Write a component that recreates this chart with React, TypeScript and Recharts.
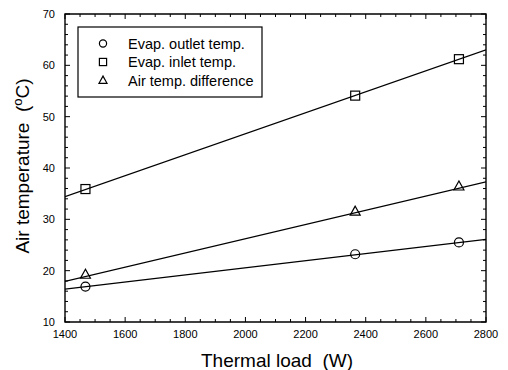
import React from 'react';
import { ComposedChart, Line, Scatter, XAxis, YAxis, ReferenceArea, Customized } from 'recharts';

// Measured data points
const loads = [1468, 2365, 2710];
const outletTemp = [16.9, 23.2, 25.5];
const inletTemp = [35.9, 54.1, 61.2];
const tempDiff = [19.2, 31.5, 36.4];

// Linear fit lines (end points at axis limits)
const fitLoads = [1400, 2800];
const outletFit = [16.4, 26.1];
const inletFit = [34.4, 63.0];
const diffFit = [17.9, 37.3];

const xMajorTicks = [1400, 1600, 1800, 2000, 2200, 2400, 2600, 2800];
const yMajorTicks = [10, 20, 30, 40, 50, 60, 70];
const legendLabels = ['Evap. outlet temp.', 'Evap. inlet temp.', 'Air temp. difference'];

const xAllTicks: number[] = [];
for (let v = 1400; v <= 2800; v += 50) xAllTicks.push(v);
const yAllTicks: number[] = [];
for (let v = 10; v <= 70; v += 2) yAllTicks.push(v);

const toPts = (xs: number[], ys: number[]) => xs.map((x, i) => ({ x, y: ys[i] }));

const W = 508;
const H = 370;
const M = { top: 14, right: 22, left: 0, bottom: 0 };
const Y_W = 65;
const X_H = 48;
const PL = Y_W;
const PT = M.top;
const PR = W - M.right;
const PB = H - X_H;

const FONT = '"Liberation Sans", Arial, sans-serif';

const CircleMark = (p: any) => {
  const s = p.s ?? 1;
  return <circle cx={p.cx} cy={p.cy} r={4.5 * s} fill="none" stroke="#000" strokeWidth={1.2} />;
};
const SquareMark = (p: any) => {
  const s = p.s ?? 1;
  return (
    <rect x={p.cx - 4.5 * s} y={p.cy - 4.5 * s} width={9 * s} height={9 * s} fill="none" stroke="#000" strokeWidth={1.2} />
  );
};
const TriMark = (p: any) => {
  const s = p.s ?? 1;
  return (
    <polygon
      points={`${p.cx},${p.cy - 5.5 * s} ${p.cx - 5 * s},${p.cy + 3.5 * s} ${p.cx + 5 * s},${p.cy + 3.5 * s}`}
      fill="none"
      stroke="#000"
      strokeWidth={1.2}
    />
  );
};

const XTick = (props: any) => {
  const x = props.x;
  const v = props.payload.value;
  const major = xMajorTicks.includes(v);
  const len = major ? 5 : 3;
  return (
    <g>
      <line x1={x} x2={x} y1={PB} y2={PB - len} stroke="#000" strokeWidth={1} />
      <line x1={x} x2={x} y1={PT} y2={PT + len} stroke="#000" strokeWidth={1} />
      {major && (
        <text x={x} y={338} textAnchor="middle" fontSize={11} fontFamily={FONT} fill="#000">
          {v}
        </text>
      )}
    </g>
  );
};

const YTick = (props: any) => {
  const y = props.y;
  const v = props.payload.value;
  const major = yMajorTicks.includes(v);
  const len = major ? 5 : 3;
  return (
    <g>
      <line x1={PL} x2={PL + len} y1={y} y2={y} stroke="#000" strokeWidth={1} />
      <line x1={PR} x2={PR - len} y1={y} y2={y} stroke="#000" strokeWidth={1} />
      {major && (
        <text x={55} y={y + 4} textAnchor="end" fontSize={11} fontFamily={FONT} fill="#000">
          {v}
        </text>
      )}
    </g>
  );
};

const marks = [CircleMark, SquareMark, TriMark];

const Decorations = () => (
  <g>
    <rect x={78} y={27} width={184} height={70} fill="#fff" stroke="#000" strokeWidth={1.2} />
    {legendLabels.map((lab, i) => {
      const cy = 43.5 + i * 18.5;
      const M2 = marks[i];
      return (
        <g key={lab}>
          <M2 cx={103} cy={cy} s={0.8} />
          <text x={128} y={cy + 5} fontSize={14.5} fontFamily={FONT} fill="#000">
            {lab}
          </text>
        </g>
      );
    })}
    <text x={277} y={367} textAnchor="middle" fontSize={19} fontFamily={FONT} fill="#000" style={{ whiteSpace: 'pre' }}>
      {'Thermal load  (W)'}
    </text>
    <text
      transform={`translate(29, 166) rotate(-90)`}
      x={0}
      y={0}
      textAnchor="middle"
      fontSize={19}
      fontFamily={FONT}
      fill="#000"
      style={{ whiteSpace: 'pre' }}
    >
      {'Air temperature  ('}
      <tspan dy={-7} fontSize={13}>o</tspan>
      <tspan dy={7}>C)</tspan>
    </text>
  </g>
);

export default function App() {
  return (
    <div style={{ position: 'absolute', left: 0, top: 0, background: '#fff' }}>
      <ComposedChart width={W} height={H} margin={M}>
        <XAxis
          dataKey="x"
          type="number"
          domain={[1400, 2800]}
          ticks={xAllTicks}
          interval={0}
          tick={<XTick />}
          tickLine={false}
          axisLine={false}
          height={X_H}
          allowDataOverflow
        />
        <YAxis
          type="number"
          domain={[10, 70]}
          ticks={yAllTicks}
          interval={0}
          tick={<YTick />}
          tickLine={false}
          axisLine={false}
          width={Y_W}
          allowDataOverflow
        />
        <ReferenceArea x1={1400} x2={2800} y1={10} y2={70} fill="none" stroke="#000" strokeWidth={1.4} />
        <Line data={toPts(fitLoads, inletFit)} dataKey="y" stroke="#000" strokeWidth={1.2} dot={false} isAnimationActive={false} />
        <Line data={toPts(fitLoads, diffFit)} dataKey="y" stroke="#000" strokeWidth={1.2} dot={false} isAnimationActive={false} />
        <Line data={toPts(fitLoads, outletFit)} dataKey="y" stroke="#000" strokeWidth={1.2} dot={false} isAnimationActive={false} />
        <Scatter data={toPts(loads, inletTemp)} dataKey="y" shape={SquareMark} isAnimationActive={false} />
        <Scatter data={toPts(loads, tempDiff)} dataKey="y" shape={TriMark} isAnimationActive={false} />
        <Scatter data={toPts(loads, outletTemp)} dataKey="y" shape={CircleMark} isAnimationActive={false} />
        <Customized component={Decorations} />
      </ComposedChart>
    </div>
  );
}
